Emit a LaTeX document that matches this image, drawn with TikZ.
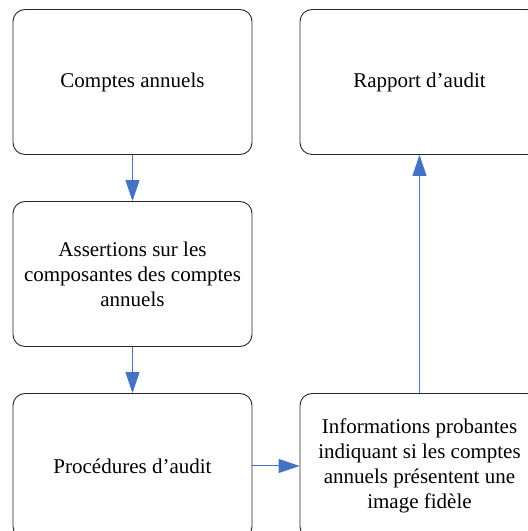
\documentclass[tikz,border=0pt]{standalone}
\usepackage{fontspec}
\setmainfont{Liberation Serif}
\usetikzlibrary{arrows.meta}
\definecolor{flowblue}{HTML}{4472C4}
\begin{document}
\begin{tikzpicture}[x=1pt,y=1pt,
  stage/.style={draw=black!85,line width=0.9pt,rounded corners=12pt,
    minimum width=239pt,minimum height=145pt,align=center,
    font=\fontsize{21}{25}\selectfont},
  flow/.style={draw=flowblue,line width=1pt,
    -{Triangle[length=21pt,width=14pt,color=flowblue]}}]
  % frame
  \useasboundingbox (0,0) rectangle (528,531);
  % boxes
  \node[stage] (comptes) at (132.5,449) {Comptes annuels};
  \node[stage] (rapport) at (419.5,449) {Rapport d’audit};
  \node[stage] (assert) at (132.5,257) {Assertions sur les\\composantes des comptes\\annuels};
  \node[stage] (proc) at (132.5,65) {Procédures d’audit};
  \node[stage] (info) at (419.5,65) {Informations probantes\\indiquant si les comptes\\annuels présentent une\\image fidèle};
  % arrows
  \draw[flow] (comptes) -- (assert);
  \draw[flow] (assert) -- (proc);
  \draw[flow] (proc) -- (info);
  \draw[flow] (info) -- (rapport);
\end{tikzpicture}
\end{document}
